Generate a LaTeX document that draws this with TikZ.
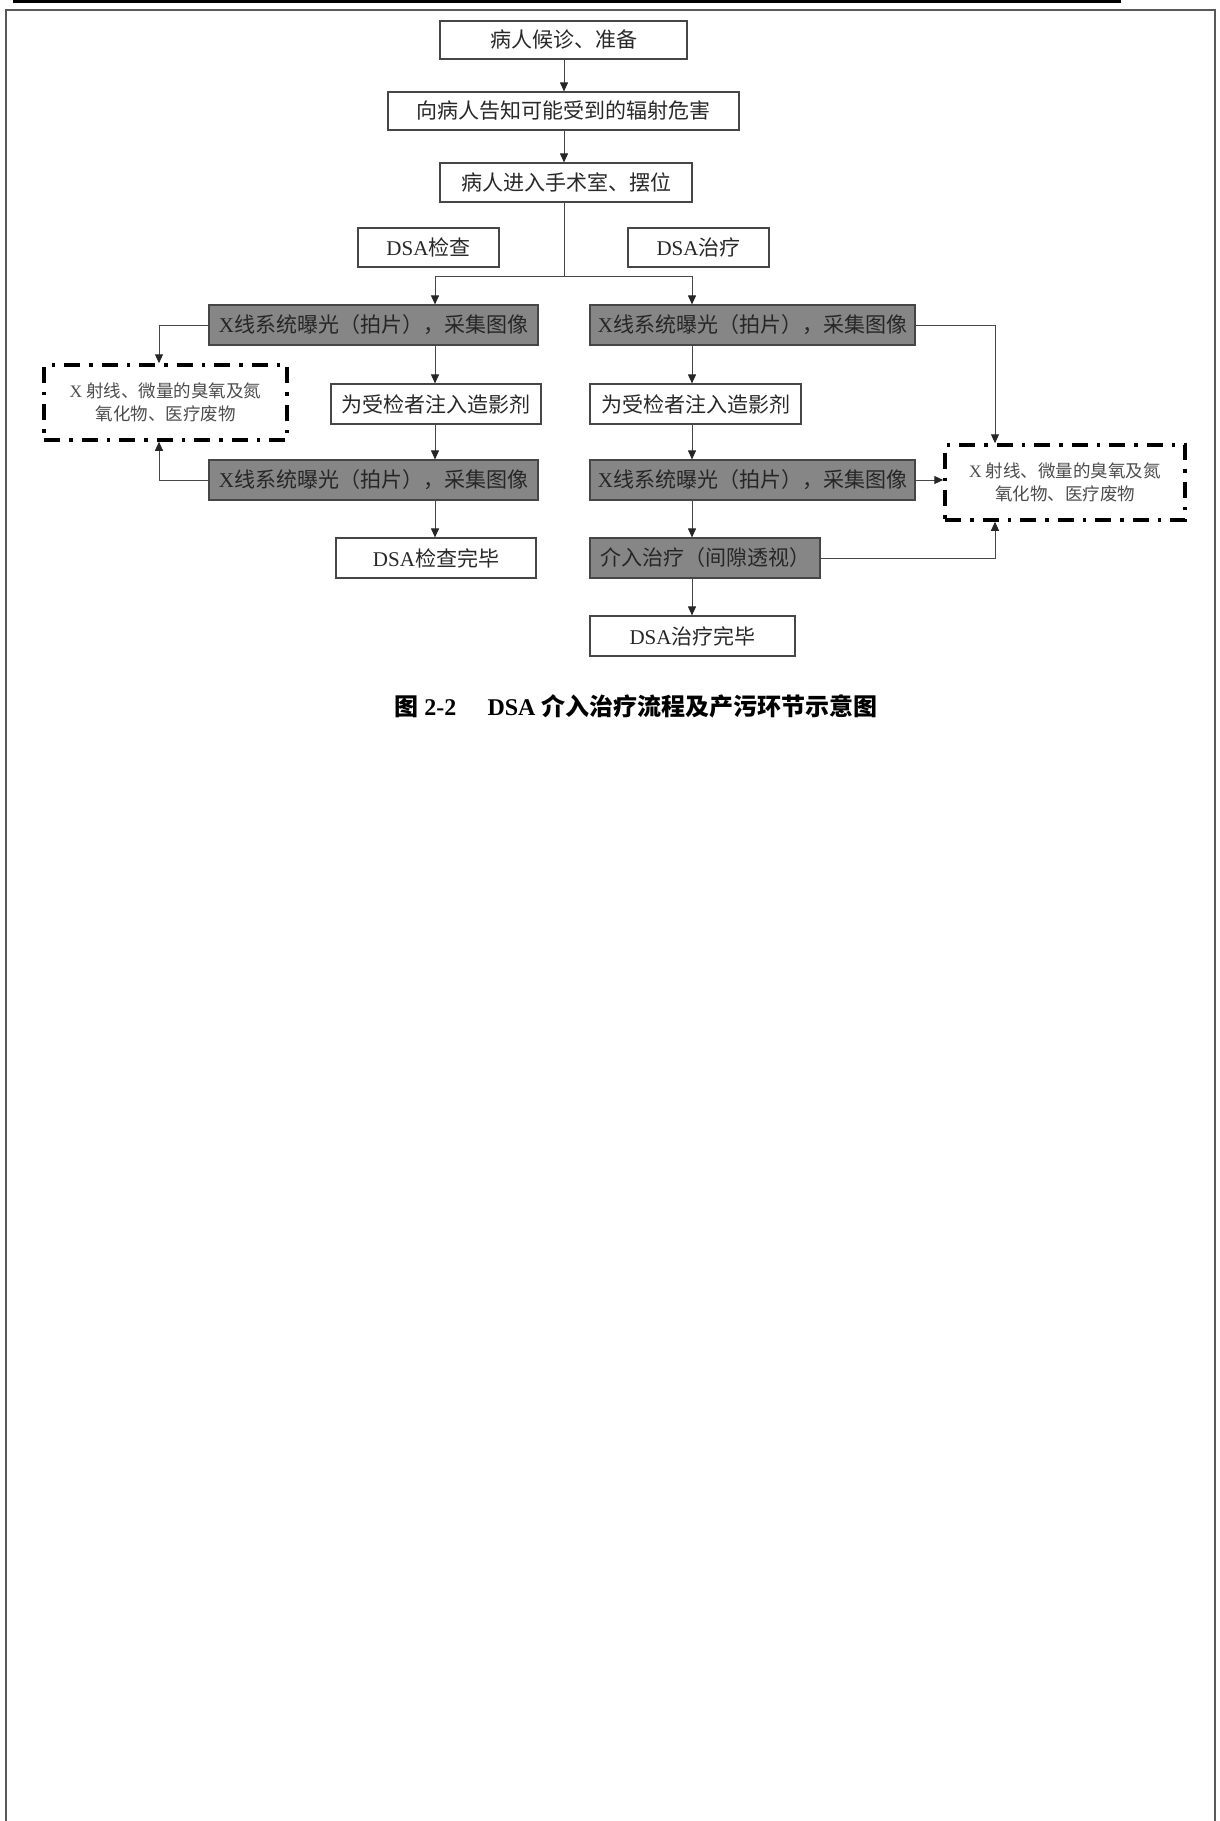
\documentclass[tikz,border=0pt]{standalone}
\usepackage{fontspec}
\setmainfont{Liberation Serif}
\newfontfamily\cjk{Noto Sans CJK SC}
\usetikzlibrary{arrows.meta}
\newcommand\lat[1]{{\rmfamily #1}}
\definecolor{boxgray}{RGB}{134,134,134}
\definecolor{linec}{RGB}{70,70,70}
\definecolor{textc}{RGB}{40,40,40}
\tikzset{
  basebox/.style={rectangle, inner sep=0pt, line width=1.2pt, draw=linec, text=textc,
    font=\cjk\fontsize{21}{24}\selectfont},
  wbox/.style={basebox, fill=white},
  gbox/.style={basebox, fill=boxgray, text=black!85},
  dbox/.style={rectangle, inner sep=0pt, draw=black, line width=3.5pt,
    dash pattern=on 16pt off 9pt on 3.5pt off 9pt, text=black!70, align=center,
    font=\cjk\fontsize{17.5}{23}\selectfont},
  arr/.style={draw=linec, line width=1pt, -{Triangle[length=9pt,width=8pt,color=black!85]}},
  conn/.style={draw=linec, line width=1pt}
}
\begin{document}
\begin{tikzpicture}[x=1pt,y=-1pt]
\useasboundingbox (0,0) rectangle (1219,1821);
% page decorations
\fill[black] (13,0) rectangle (1121,2.5);
\draw[line width=2pt, black!65] (6,1821) -- (6,9.5) -- (1215,9.5) -- (1215,1821);

% columns
\coordinate (colL) at (435,0);
\coordinate (colR) at (692,0);
\coordinate (sideL) at (159,0);
\coordinate (sideR) at (995,0);
\coordinate (split) at (564,276);

% nodes
\node[wbox, minimum width=247, minimum height=38] (b1) at (563.5,40) {病人候诊、准备};
\node[wbox, minimum width=351, minimum height=38] (b2) at (563.5,111) {向病人告知可能受到的辐射危害};
\node[wbox, minimum width=252, minimum height=39] (b3) at (566,182.5) {病人进入手术室、摆位};
\node[wbox, minimum width=141, minimum height=39] (lab1) at (428.5,247.5) {\lat{DSA}检查};
\node[wbox, minimum width=141, minimum height=39] (lab2) at (698.5,247.5) {\lat{DSA}治疗};

\node[gbox, minimum width=329, minimum height=40] (gL1) at (373.5,325) {\lat{X}线系统曝光（拍片），采集图像};
\node[wbox, minimum width=210, minimum height=40] (injL) at (436,404) {为受检者注入造影剂};
\node[gbox, minimum width=329, minimum height=40] (gL2) at (373.5,480) {\lat{X}线系统曝光（拍片），采集图像};
\node[wbox, minimum width=200, minimum height=40] (endL) at (436,558) {\lat{DSA}检查完毕};
\node[dbox, minimum width=243, minimum height=75] (dL) at (165.5,402.5) {\lat{X} 射线、微量的臭氧及氮\\氧化物、医疗废物};

\node[gbox, minimum width=325, minimum height=40] (gR1) at (752.5,325) {\lat{X}线系统曝光（拍片），采集图像};
\node[wbox, minimum width=211, minimum height=40] (injR) at (695.5,404) {为受检者注入造影剂};
\node[gbox, minimum width=325, minimum height=40] (gR2) at (752.5,480) {\lat{X}线系统曝光（拍片），采集图像};
\node[gbox, minimum width=230, minimum height=40] (interv) at (705,558) {介入治疗（间隙透视）};
\node[wbox, minimum width=205, minimum height=40] (endR) at (692.5,636) {\lat{DSA}治疗完毕};
\node[dbox, minimum width=240, minimum height=75] (dR) at (1065,482.5) {\lat{X} 射线、微量的臭氧及氮\\氧化物、医疗废物};

% caption
\node[font=\bfseries\fontsize{24}{28}\selectfont, text=black] (cap) at (636,706)
  {\cjk 图\ \lat{2-2}\hspace{1.3em}\lat{DSA}\ 介入治疗流程及产污环节示意图};

% connectors
\draw[arr] (b1.south -| split) -- (b2.north -| split);
\draw[arr] (b2.south -| split) -- (b3.north -| split);
\draw[arr] (b3.south -| split) -- (split) -| (gL1.north -| colL);
\draw[arr] (split) -| (gR1.north -| colR);

\draw[arr] (gL1.south -| colL) -- (injL.north -| colL);
\draw[arr] (injL.south -| colL) -- (gL2.north -| colL);
\draw[arr] (gL2.south -| colL) -- (endL.north -| colL);
\draw[arr] (gL1.west) -| (dL.north -| sideL);
\draw[arr] (gL2.west) -| (dL.south -| sideL);

\draw[arr] (gR1.south -| colR) -- (injR.north -| colR);
\draw[arr] (injR.south -| colR) -- (gR2.north -| colR);
\draw[arr] (gR2.south -| colR) -- (interv.north -| colR);
\draw[arr] (interv.south -| colR) -- (endR.north -| colR);
\draw[arr] (gR1.east) -| (dR.north -| sideR);
\draw[arr] (gR2.east) -- (gR2.east -| dR.west);
\draw[arr] (interv.east) -| (dR.south -| sideR);
\end{tikzpicture}
\end{document}
